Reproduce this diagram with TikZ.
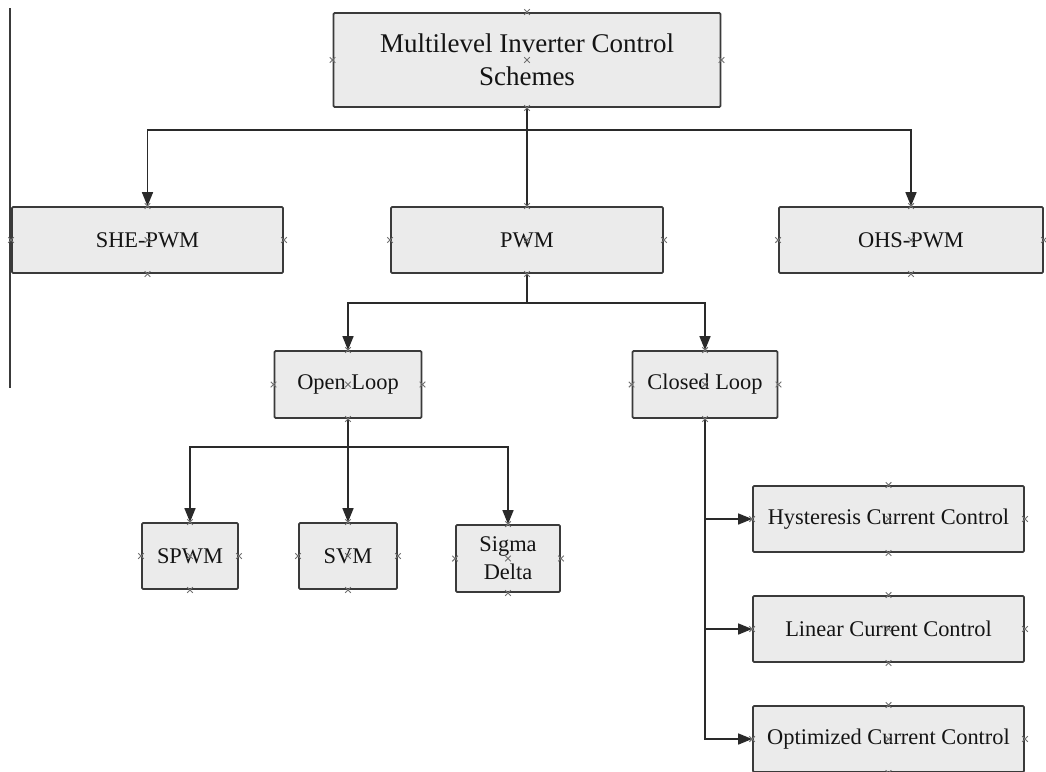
\documentclass[tikz,border=0pt]{standalone}
\usepackage{fontspec}
\setmainfont{Liberation Serif}
\usetikzlibrary{arrows.meta}
\definecolor{boxfill}{HTML}{EBEBEB}
\definecolor{boxline}{HTML}{3A3A3A}
\definecolor{connc}{HTML}{2A2A2A}
\definecolor{mk}{HTML}{707070}
\begin{document}
\begin{tikzpicture}[x=1pt,y=-1pt,
  box/.style={draw=boxline,fill=boxfill,line width=1.8pt,rounded corners=1.2pt,
    inner sep=0pt,align=center,font=\fontsize{22.4}{28}\selectfont,text=black!92},
  conn/.style={draw=connc,line width=1.6pt},
  arr/.style={conn,-{Triangle[length=14pt,width=11pt]}},
  xmark/.pic={\draw[mk,line width=0.9pt] (-2.8pt,-2.8pt)--(2.8pt,2.8pt) (-2.8pt,2.8pt)--(2.8pt,-2.8pt);}]
\useasboundingbox (0,0) rectangle (1046,771);
\fill[white] (0,0) rectangle (1046,771);

% left vertical rule
\coordinate (lt) at (10,8);
\coordinate (lb) at (10,388);
\draw[draw=boxline,line width=1.6pt] (lt) -- (lb);

% boxes
\node[box,minimum width=387pt,minimum height=94pt,font=\fontsize{27}{33}\selectfont] (top) at (527,60) {Multilevel Inverter Control\\Schemes};
\node[box,minimum width=271pt,minimum height=66pt] (she) at (147.5,240) {SHE-PWM};
\node[box,minimum width=272pt,minimum height=66pt] (pwm) at (527,240) {PWM};
\node[box,minimum width=264pt,minimum height=66pt] (ohs) at (911,240) {OHS-PWM};
\node[box,minimum width=147pt,minimum height=67pt] (open) at (348,384.5) {Open Loop};
\node[box,minimum width=145pt,minimum height=67pt] (closed) at (705,384.5) {Closed Loop};
\node[box,minimum width=96pt,minimum height=66pt] (spwm) at (190,556) {SPWM};
\node[box,minimum width=98pt,minimum height=66pt] (svm) at (348,556) {SVM};
\node[box,minimum width=104pt,minimum height=67pt] (sd) at (508,558.5) {Sigma\\Delta};
\node[box,minimum width=271pt,minimum height=66pt] (hys) at (888.5,519) {Hysteresis Current Control};
\node[box,minimum width=271pt,minimum height=66pt] (lin) at (888.5,629) {Linear Current Control};
\node[box,minimum width=271pt,minimum height=66pt] (opt) at (888.5,739) {Optimized Current Control};

% connectors
\coordinate (bus1) at (527,130);
\draw[conn] (top.south) -- (pwm.north);
\draw[arr] (bus1) -| (she.north);
\draw[arr] (bus1) -| (ohs.north);

\coordinate (bus2) at (527,303);
\draw[conn] (pwm.south) -- (bus2);
\draw[arr] (bus2) -| (open.north);
\draw[arr] (bus2) -| (closed.north);

\coordinate (bus3) at (348,447);
\draw[conn] (open.south) -- (bus3);
\draw[arr] (bus3) -| (spwm.north);
\draw[arr] (bus3) -- (svm.north);
\draw[arr] (bus3) -| (sd.north);

\draw[arr] (closed.south) |- (opt.west);
\draw[arr] (closed.south |- hys.west) -- (hys.west);
\draw[arr] (closed.south |- lin.west) -- (lin.west);

% connection-point marks
\foreach \n in {top,she,pwm,ohs,open,closed,spwm,svm,sd,hys,lin,opt}{
  \foreach \a in {north,south,east,west,center}{
    \pic at (\n.\a) {xmark};
  }
}
\end{tikzpicture}
\end{document}
